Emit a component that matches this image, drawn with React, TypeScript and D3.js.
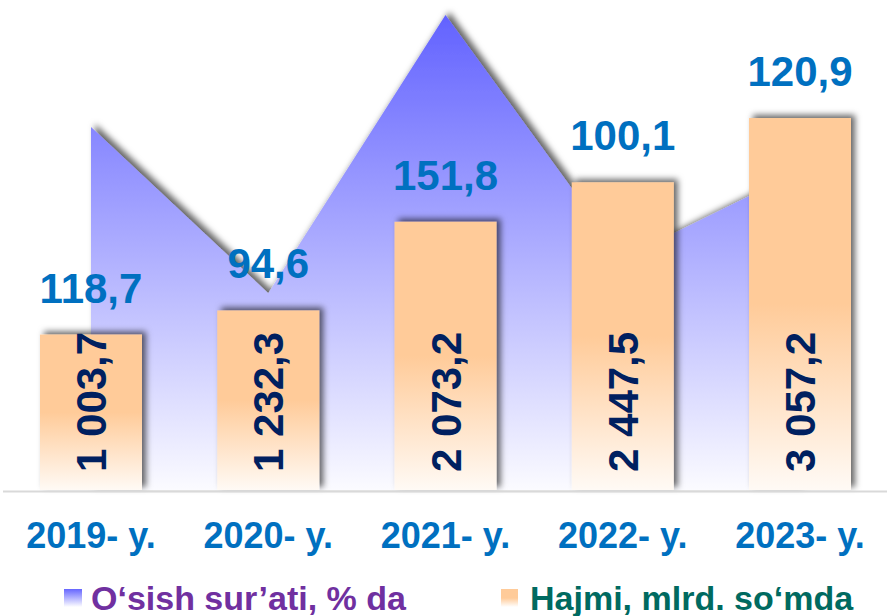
import * as d3 from "d3";

// categories and values
const years = ["2019- y.", "2020- y.", "2021- y.", "2022- y.", "2023- y."];
const growthLabels = [118.7, 94.6, 151.8, 100.1, 120.9];
// height of the purple area as drawn (it does not follow the labels)
const growthShape = [116.2, 63.0, 152, 74.2, 102.1];
const volume = [1003.7, 1232.3, 2073.2, 2447.5, 3057.2];

const legendItems = ["O‘sish sur’ati, % da", "Hajmi, mlrd. so‘mda"];

const fmt = (v: number) => {
  const [int, dec] = v.toFixed(1).split(".");
  const withSpaces = int.replace(/\B(?=(\d{3})+(?!\d))/g, " ");
  return withSpaces + "," + dec;
};

const App = () => {
  const width = 887;
  const height = 616;
  const baseY = 490;
  const barW = 102;
  const font = "Arial, 'Liberation Sans', sans-serif";

  const x = d3.scalePoint<string>().domain(years).range([91, 800]);

  const yArea = d3.scaleLinear().domain([0, 152]).range([baseY, 15]);
  const yBar = d3.scaleLinear().domain([-470, 3100]).range([baseY, 113.5]);

  const area = d3
    .area<number>()
    .x((_, i) => x(years[i])!)
    .y0(baseY)
    .y1((d) => yArea(d));

  return (
    <div style={{ position: "absolute", left: 0, top: 0 }}>
      <svg width={width} height={height} style={{ display: "block" }}>
        <defs>
          <linearGradient id="areaGrad" gradientUnits="userSpaceOnUse" x1="0" y1="15" x2="0" y2={baseY}>
            <stop offset="0" stopColor="#6262ff" />
            <stop offset="1" stopColor="#fbfbff" />
          </linearGradient>
          <linearGradient id="barGrad" x1="0" y1="0" x2="0" y2="1">
            <stop offset="0" stopColor="#ffcb99" />
            <stop offset="0.5" stopColor="#ffcb99" />
            <stop offset="1" stopColor="#fffaf5" />
          </linearGradient>
          <linearGradient id="legBlue" x1="0" y1="0" x2="0" y2="1">
            <stop offset="0" stopColor="#6666ff" />
            <stop offset="1" stopColor="#ffffff" />
          </linearGradient>
          <linearGradient id="legOrange" x1="0" y1="0" x2="0" y2="1">
            <stop offset="0" stopColor="#ffcb99" />
            <stop offset="0.5" stopColor="#ffcb99" />
            <stop offset="1" stopColor="#ffffff" />
          </linearGradient>
          <filter id="shadow" x="-20%" y="-20%" width="140%" height="140%">
            <feDropShadow dx="4" dy="-3" stdDeviation="3" floodColor="#000" floodOpacity="0.6" />
          </filter>
        </defs>

        <path d={area(growthShape)!} fill="url(#areaGrad)" filter="url(#shadow)" />

        {volume.map((v, i) => {
          const cx = x(years[i])!;
          const top = yBar(v);
          return (
            <g key={years[i]}>
              <rect
                x={cx - barW / 2}
                y={top}
                width={barW}
                height={baseY - top}
                fill="url(#barGrad)"
                filter="url(#shadow)"
              />
              <text
                transform={`translate(${cx + 15},${472}) rotate(-90)`}
                fontFamily={font}
                fontWeight="bold"
                fontSize={42}
                fill="#002060"
              >
                {fmt(v)}
              </text>
              <text
                x={cx}
                y={top - 32}
                textAnchor="middle"
                fontFamily={font}
                fontWeight="bold"
                fontSize={42}
                fill="#0070c0"
              >
                {fmt(growthLabels[i])}
              </text>
            </g>
          );
        })}

        <line x1={3} x2={width} y1={baseY + 1.5} y2={baseY + 1.5} stroke="#d9d9d9" strokeWidth={2} />

        {years.map((yr) => (
          <text
            key={yr}
            x={x(yr)!}
            y={548}
            textAnchor="middle"
            fontFamily={font}
            fontWeight="bold"
            fontSize={36}
            fill="#0070c0"
          >
            {yr}
          </text>
        ))}

        <g>
          <rect x={64} y={589} width={18} height={18} fill="url(#legBlue)" />
          <text x={91} y={610} fontFamily={font} fontWeight="bold" fontSize={34} fill="#7030a0">
            {legendItems[0]}
          </text>
          <rect x={501} y={589} width={17} height={18} fill="url(#legOrange)" />
          <text x={530} y={610} fontFamily={font} fontWeight="bold" fontSize={34} fill="#006a60">
            {legendItems[1]}
          </text>
        </g>
      </svg>
    </div>
  );
};

export default App;
